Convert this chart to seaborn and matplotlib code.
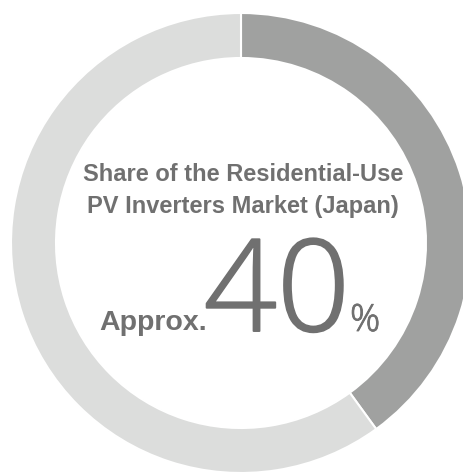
import matplotlib
matplotlib.use("Agg")
import matplotlib.pyplot as plt
import matplotlib.patheffects as pe
import seaborn as sns

# Data
segments = ["Share", "Others"]
shares = [40, 60]
title_lines = ["Share of the Residential-Use", "PV Inverters Market (Japan)"]
prefix = "Approx."
value_text = "40"
unit_text = "%"

sns.set_theme(style="white")
plt.rcParams["font.family"] = ["Liberation Sans", "DejaVu Sans"]

W, H = 464, 473
fig = plt.figure(figsize=(W / 100, H / 100), dpi=100)
ax = fig.add_axes([0, 0, 1, 1])

colors = ["#a0a1a0", "#dcdddc"]
ax.pie(shares, colors=colors, startangle=90, counterclock=False,
       center=(241, H - 243), radius=230,
       wedgeprops=dict(width=45, edgecolor="white", linewidth=1.5))
ax.set_xlim(0, W)
ax.set_ylim(0, H)
ax.set_aspect("equal")
ax.axis("off")

tc = "#707070"
ax.text(243, H - 181, title_lines[0], ha="center", va="baseline",
        fontsize=17, fontweight="bold", color=tc)
ax.text(243, H - 213, title_lines[1], ha="center", va="baseline",
        fontsize=17, fontweight="bold", color=tc)
ax.text(99, H - 330, prefix, ha="left", va="baseline",
        fontsize=20.5, fontweight="bold", color=tc)
ax.text(204, H - 331, value_text, ha="left", va="baseline",
        fontsize=92, fontweight="light", color=tc,
        path_effects=[pe.withStroke(linewidth=1.4, foreground=tc)],
        family=["Open Sans", "DejaVu Sans"])
ax.text(350, H - 331, unit_text, ha="left", va="baseline",
        fontsize=27, fontweight="light", color=tc,
        path_effects=[pe.withStroke(linewidth=0.6, foreground=tc)],
        family=["Open Sans", "DejaVu Sans"])

fig.savefig("out.png", dpi=100)
